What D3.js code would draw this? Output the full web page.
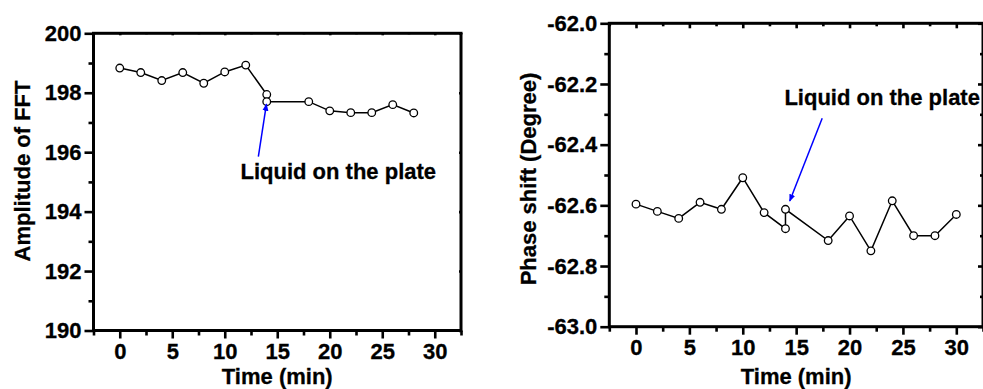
<!DOCTYPE html>
<html>
<head>
<meta charset="utf-8">
<script src="https://cdn.jsdelivr.net/npm/d3@7"></script>
<style>
  html, body { margin: 0; padding: 0; background: #fff; }
  svg { display: block; font-family: "Liberation Sans", Arial, sans-serif; font-weight: bold; }
</style>
</head>
<body>
<svg id="chart" width="983" height="389"></svg>
<script>
// Data.
const timeAmp = [0, 2, 4, 6, 8, 10, 12, 14, 14, 18, 20, 22, 24, 26, 28];
const amplitude = [198.83, 198.68, 198.41, 198.68, 198.32, 198.70, 198.93, 197.94, 197.70, 197.70, 197.39, 197.33, 197.33, 197.60, 197.32];

const timePhase = [0, 2, 4, 6, 8, 10, 12, 14, 14, 18, 20, 22, 24, 26, 28, 30];
const phase = [-62.596, -62.620, -62.643, -62.590, -62.613, -62.509, -62.624, -62.677, -62.613, -62.716, -62.635, -62.750, -62.585, -62.700, -62.700, -62.630];

const timeTicks = [0, 5, 10, 15, 20, 25, 30];
const timeMinor = [-2.5, 2.5, 7.5, 12.5, 17.5, 22.5, 27.5, 32.5];
const ampTicks = [190, 192, 194, 196, 198, 200];
const ampMinor = [191, 193, 195, 197, 199];
const phaseTicks = [-63.0, -62.8, -62.6, -62.4, -62.2, -62.0];
const phaseMinor = [-62.9, -62.7, -62.5, -62.3, -62.1];

const annotationText = "Liquid on the plate";
const FONT = 22;

const svg = d3.select("#chart");

function drawPanel(cfg) {
  const x = d3.scaleLinear().domain([-2.5, 32.5]).range([cfg.left, cfg.right]);
  const y = d3.scaleLinear().domain(cfg.yDomain).range([cfg.bottom, cfg.top]);
  const g = svg.append("g");

  // Frame
  g.append("rect")
    .attr("x", cfg.left).attr("y", cfg.top)
    .attr("width", cfg.right - cfg.left).attr("height", cfg.bottom - cfg.top)
    .attr("fill", "none").attr("stroke", "#000").attr("stroke-width", 3);

  const styleAxis = sel => {
    sel.select(".domain").remove();
    sel.selectAll(".tick line").attr("stroke", "#000").attr("stroke-width", 2.6);
    sel.selectAll(".tick text").attr("font-size", FONT).attr("font-weight", "bold")
      .attr("font-family", "Liberation Sans, Arial, sans-serif").attr("fill", "#000")
      .attr("stroke", "#000").attr("stroke-width", 0.3);
  };

  // bottom axis: major + minor
  g.append("g").attr("transform", `translate(0,${cfg.bottom})`)
    .call(d3.axisBottom(x).tickValues(timeTicks).tickSize(8).tickPadding(5).tickFormat(d => String(d)))
    .call(styleAxis);
  g.append("g").attr("transform", `translate(0,${cfg.bottom})`)
    .call(d3.axisBottom(x).tickValues(timeMinor).tickSize(5).tickFormat(""))
    .call(styleAxis);

  // left axis: major + minor
  g.append("g").attr("transform", `translate(${cfg.left},0)`)
    .call(d3.axisLeft(y).tickValues(cfg.yTicks).tickSize(9).tickPadding(3).tickFormat(cfg.yFormat))
    .call(styleAxis);
  g.append("g").attr("transform", `translate(${cfg.left},0)`)
    .call(d3.axisLeft(y).tickValues(cfg.yMinor).tickSize(5).tickFormat(""))
    .call(styleAxis);

  // mirrored top/right ticks (inward)
  const inMajor = cfg.mirrorTick, inMinor = Math.max(1, cfg.mirrorTick - 2);
  g.append("g").attr("transform", `translate(0,${cfg.top})`)
    .call(d3.axisBottom(x).tickValues(timeTicks).tickSize(inMajor).tickFormat(""))
    .call(styleAxis);
  g.append("g").attr("transform", `translate(0,${cfg.top})`)
    .call(d3.axisBottom(x).tickValues(timeMinor).tickSize(inMinor).tickFormat(""))
    .call(styleAxis);
  g.append("g").attr("transform", `translate(${cfg.right},0)`)
    .call(d3.axisLeft(y).tickValues(cfg.yTicks).tickSize(inMajor).tickFormat(""))
    .call(styleAxis);
  g.append("g").attr("transform", `translate(${cfg.right},0)`)
    .call(d3.axisLeft(y).tickValues(cfg.yMinor).tickSize(inMinor).tickFormat(""))
    .call(styleAxis);

  const boldText = sel => sel.attr("font-size", FONT).attr("stroke", "#000").attr("stroke-width", 0.3);

  // Axis titles
  g.append("text")
    .attr("x", (cfg.left + cfg.right) / 2).attr("y", 383.5)
    .attr("text-anchor", "middle").call(boldText)
    .text("Time (min)");
  g.append("text")
    .attr("transform", `translate(${cfg.yTitleX},${cfg.yTitleY}) rotate(-90)`)
    .attr("text-anchor", "middle").call(boldText)
    .text(cfg.yTitle);

  // Data line + open circles
  const pts = cfg.xs.map((t, i) => [t, cfg.ys[i]]);
  g.append("path")
    .datum(pts)
    .attr("fill", "none").attr("stroke", "#000").attr("stroke-width", 1.5)
    .attr("d", d3.line().x(d => x(d[0])).y(d => y(d[1])));
  g.append("g").selectAll("circle")
    .data(pts)
    .join("circle")
    .attr("cx", d => x(d[0])).attr("cy", d => y(d[1]))
    .attr("r", 3.8)
    .attr("fill", "#fff").attr("stroke", "#000").attr("stroke-width", 1.3);

  // Annotation arrow
  const a = cfg.arrow;
  g.append("line")
    .attr("x1", x(a.from[0])).attr("y1", y(a.from[1]))
    .attr("x2", x(a.to[0])).attr("y2", y(a.to[1]))
    .attr("stroke", "#0000ff").attr("stroke-width", 1.5)
    .attr("marker-end", "url(#arrowhead)");
  g.append("text")
    .attr("x", x(a.label[0])).attr("y", y(a.label[1]))
    .call(boldText)
    .text(annotationText);
}

svg.append("defs").append("marker")
  .attr("id", "arrowhead")
  .attr("viewBox", "0 0 10 10")
  .attr("refX", 9).attr("refY", 5)
  .attr("markerWidth", 5).attr("markerHeight", 5)
  .attr("markerUnits", "strokeWidth")
  .attr("orient", "auto")
  .append("path").attr("d", "M0,1 L10,5 L0,9 Z").attr("fill", "#0000ff");

drawPanel({
  left: 93.5, right: 461, top: 33.3, bottom: 330.5,
  yDomain: [190, 200], yTicks: ampTicks, yMinor: ampMinor, yFormat: d => String(d),
  yTitle: "Amplitude of FFT", yTitleX: 30, yTitleY: 171, mirrorTick: 2,
  xs: timeAmp, ys: amplitude,
  arrow: { from: [13.2, 195.85], to: [13.97, 197.62], label: [11.5, 195.1] }
});

drawPanel({
  left: 609.3, right: 983, top: 23.3, bottom: 326.7,
  yDomain: [-63, -62], yTicks: phaseTicks, yMinor: phaseMinor, yFormat: d => d.toFixed(1),
  yTitle: "Phase shift (Degree)", yTitleX: 535.7, yTitleY: 179, mirrorTick: 5,
  xs: timePhase, ys: phase,
  arrow: { from: [17.44, -62.313], to: [14.4, -62.586], label: [13.9, -62.27] }
});
</script>
</body>
</html>
